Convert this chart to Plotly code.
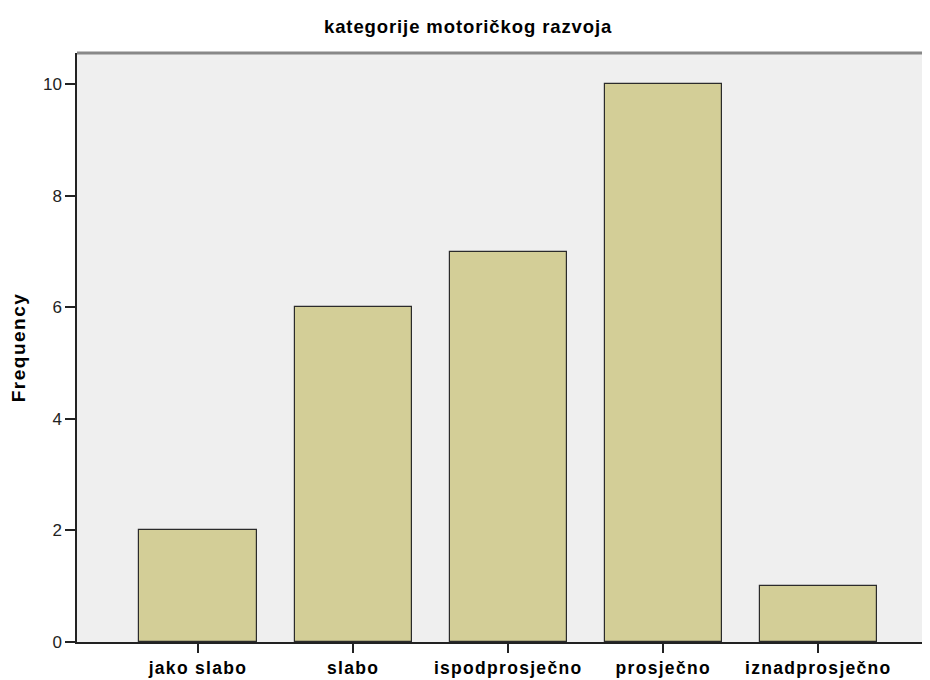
import plotly.graph_objects as go

categories = ["jako slabo", "slabo", "ispodprosječno", "prosječno", "iznadprosječno"]
frequency = [2, 6, 7, 10, 1]
y_ticks = [0, 2, 4, 6, 8, 10]

fig = go.Figure(go.Bar(
    x=list(range(len(categories))),
    y=frequency,
    width=0.755,
    marker=dict(color="#d3ce97", line=dict(color="#2b2b2b", width=1.2)),
))

# page has an 8px body margin, so the figure is sized to 922x672
fig.update_layout(
    width=922, height=672,
    margin=dict(l=69, r=0, t=45, b=38, autoexpand=False),
    paper_bgcolor="white",
    plot_bgcolor="#efefef",
    showlegend=False,
    title=dict(
        text="kategorije motoričkog razvoja",
        x=0.499, xref="container", xanchor="center",
        y=1 - 19 / 672, yref="container", yanchor="middle",
        font=dict(family="Liberation Sans, Arial, sans-serif",
                  size=18.5, color="black", weight="bold"),
    ),
    bargap=0,
)

fig.update_xaxes(
    range=[-0.78, 4.72],
    automargin=False,
    tickmode="array",
    tickvals=list(range(len(categories))),
    ticktext=categories,
    ticks="outside", ticklen=9, tickwidth=1.5, tickcolor="#222",
    showline=True, linecolor="#222", linewidth=1.5,
    showgrid=False, zeroline=False,
    tickfont=dict(family="Liberation Sans, Arial, sans-serif", size=17.5, color="black", weight="bold"),
)

fig.update_yaxes(
    range=[0, 10.56],
    automargin=False,
    tickmode="array",
    tickvals=y_ticks,
    ticktext=[str(v) for v in y_ticks],
    ticks="outside", ticklen=10, tickwidth=1.5, tickcolor="#222",
    showline=True, linecolor="#222", linewidth=1.5,
    showgrid=False, zeroline=False,
    tickfont=dict(family="Liberation Sans, Arial, sans-serif", size=17, color="#222"),
    title=dict(text="Frequency", standoff=18,
               font=dict(family="Liberation Sans, Arial, sans-serif", size=19, color="black", weight="bold")),
)

# top border line of plot area
fig.add_shape(type="line", xref="paper", yref="paper", x0=0, x1=1, y0=1, y1=1,
              line=dict(color="#888888", width=3))

css_js = (
    "var s=document.createElement('style');"
    "s.textContent='.gtitle{letter-spacing:0.9px} .ytitle{letter-spacing:1.5px} "
    ".xtick text{letter-spacing:1.3px}';"
    "document.head.appendChild(s);"
)

fig.write_html("out.html", post_script=css_js)
